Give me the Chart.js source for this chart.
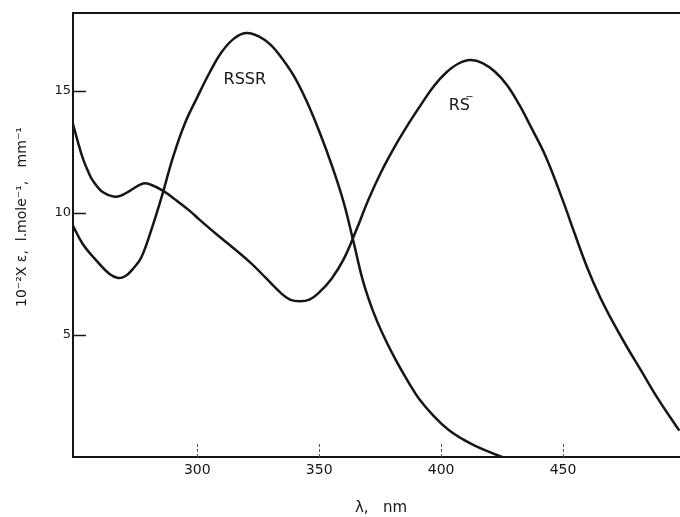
<!DOCTYPE html>
<html>
<head>
<meta charset="utf-8">
<script src="https://cdn.jsdelivr.net/npm/chart.js@4/dist/chart.umd.min.js"></script>
<style>
  html, body { margin: 0; padding: 0; background: #ffffff; }
  canvas { display: block; }
</style>
</head>
<body>
<canvas id="c" width="680" height="517"></canvas>
<script>
// Absorption spectra: disulfide (RSSR) and thiolate anion (RS⁻)
const wavelengthsRSSR = [249, 253, 258.6, 264, 267.5, 270.5, 273.5, 277, 281, 285.3, 290, 294.8, 300, 305, 310, 315, 320, 325, 330, 335, 340, 345, 350, 355, 360, 364, 368, 372, 376, 381, 387, 391, 397, 403, 409, 414, 420, 425];
const epsilonRSSR     = [9.48, 8.73, 8.05, 7.5, 7.34, 7.42, 7.7, 8.18, 9.27, 10.64, 12.28, 13.65, 14.75, 15.75, 16.6, 17.15, 17.38, 17.25, 16.9, 16.3, 15.55, 14.55, 13.35, 12.0, 10.45, 8.85, 7.2, 6.0, 5.05, 4.05, 3.0, 2.38, 1.68, 1.12, 0.72, 0.46, 0.2, 0.0];

const wavelengthsRS = [249, 251, 253, 255, 257.2, 261.3, 266, 269, 272.3, 277.7, 281, 286, 291, 297, 301, 308, 315, 322, 328, 334, 338, 342, 346, 350, 355, 360, 365, 370, 375, 380, 385, 391, 397, 402, 407, 412, 417, 422, 427, 432, 437, 443, 450, 455, 460, 465, 470, 476, 482, 489, 497.7];
const epsilonRS     = [13.65, 12.92, 12.25, 11.75, 11.32, 10.85, 10.67, 10.73, 10.91, 11.21, 11.16, 10.91, 10.55, 10.08, 9.72, 9.12, 8.55, 7.95, 7.35, 6.75, 6.45, 6.38, 6.45, 6.75, 7.3, 8.1, 9.25, 10.5, 11.6, 12.55, 13.4, 14.33, 15.2, 15.75, 16.12, 16.27, 16.15, 15.8, 15.25, 14.45, 13.5, 12.3, 10.5, 9.1, 7.75, 6.6, 5.62, 4.55, 3.55, 2.38, 1.08];

const xTickValues = [300, 350, 400, 450];
const yTickValues = [5, 10, 15];

const xRange = [249, 498];
const yRange = [0, 18.2];

const INK = '#161616';
const FONT = '"DejaVu Sans", "Liberation Sans", sans-serif';

function toPoints(xs, ys) {
  return xs.map((x, i) => ({ x: x, y: ys[i] }));
}

// Frame details, inner tick marks, curve names and axis titles
const decorations = {
  id: 'decorations',
  afterDraw(chart) {
    const ctx = chart.ctx;
    const area = chart.chartArea;
    const xs = chart.scales.x;
    const ys = chart.scales.y;
    ctx.save();

    // top frame line
    ctx.strokeStyle = INK;
    ctx.lineWidth = 2;
    ctx.beginPath();
    ctx.moveTo(area.left - 1, area.top);
    ctx.lineTo(area.right, area.top);
    ctx.stroke();

    // y tick marks pointing inward
    ctx.lineWidth = 1.5;
    yTickValues.forEach(v => {
      const py = Math.round(ys.getPixelForValue(v)) + 0.5;
      ctx.beginPath();
      ctx.moveTo(area.left, py);
      ctx.lineTo(area.left + 13, py);
      ctx.stroke();
    });

    // x tick marks pointing inward (thin, broken)
    ctx.lineWidth = 1;
    ctx.strokeStyle = '#555555';
    ctx.setLineDash([3, 2]);
    xTickValues.forEach(v => {
      const px = Math.round(xs.getPixelForValue(v)) + 0.5;
      ctx.beginPath();
      ctx.moveTo(px, area.bottom);
      ctx.lineTo(px, area.bottom - 13);
      ctx.stroke();
    });
    ctx.setLineDash([]);

    // curve names
    ctx.fillStyle = INK;
    ctx.font = '16px ' + FONT;
    ctx.textAlign = 'center';
    ctx.textBaseline = 'middle';
    ctx.fillText('RSSR', xs.getPixelForValue(319.5), ys.getPixelForValue(15.47));

    const rsX = xs.getPixelForValue(407.5);
    const rsY = ys.getPixelForValue(14.38);
    ctx.fillText('RS', rsX, rsY);
    ctx.font = '10px ' + FONT;
    ctx.fillText('−', rsX + 10, rsY - 9);

    // axis titles
    ctx.font = '15px ' + FONT;
    ctx.textAlign = 'center';
    ctx.fillText('λ,   nm', 381, 508);

    ctx.save();
    ctx.translate(22, 307);
    ctx.rotate(-Math.PI / 2);
    ctx.font = '14px ' + FONT;
    ctx.textAlign = 'left';
    ctx.textBaseline = 'middle';
    ctx.fillText('10⁻²X ε,  l.mole⁻¹,   mm⁻¹', 0, 0);
    ctx.restore();

    ctx.restore();
  }
};

const lineStyle = {
  borderColor: INK,
  borderWidth: 2.5,
  pointRadius: 0,
  fill: false,
  tension: 0.4
};

new Chart(document.getElementById('c'), {
  type: 'line',
  data: {
    datasets: [
      Object.assign({ label: 'RSSR', data: toPoints(wavelengthsRSSR, epsilonRSSR) }, lineStyle),
      Object.assign({ label: 'RS⁻', data: toPoints(wavelengthsRS, epsilonRS) }, lineStyle)
    ]
  },
  options: {
    responsive: false,
    animation: false,
    events: [],
    layout: { padding: { top: 13, right: 0, left: 0, bottom: 0 } },
    plugins: {
      legend: { display: false },
      tooltip: { enabled: false },
      title: { display: false }
    },
    scales: {
      x: {
        type: 'linear',
        position: 'bottom',
        min: xRange[0],
        max: xRange[1],
        afterBuildTicks: s => { s.ticks = xTickValues.map(v => ({ value: v })); },
        afterFit: s => { s.height = 60; },
        grid: { display: false, drawTicks: false },
        border: { display: true, width: 2, color: INK },
        ticks: {
          autoSkip: false,
          maxRotation: 0,
          padding: 5,
          color: INK,
          font: { family: FONT, size: 14 }
        }
      },
      y: {
        type: 'linear',
        position: 'left',
        min: yRange[0],
        max: yRange[1],
        afterBuildTicks: s => { s.ticks = yTickValues.map(v => ({ value: v })); },
        afterFit: s => { s.width = 73; },
        grid: { display: false, drawTicks: false },
        border: { display: true, width: 2, color: INK },
        ticks: {
          autoSkip: false,
          padding: 2,
          color: INK,
          font: { family: FONT, size: 13 }
        }
      }
    }
  },
  plugins: [decorations]
});
</script>
</body>
</html>
